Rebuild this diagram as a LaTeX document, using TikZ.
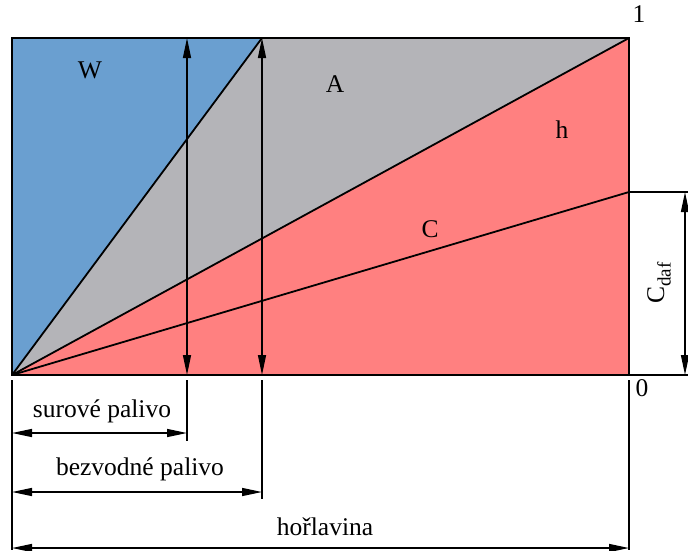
\documentclass[tikz,border=0pt]{standalone}
\usepackage{fontspec}
\setmainfont{Liberation Serif}
\usetikzlibrary{arrows.meta}
\definecolor{wblue}{HTML}{6A9FD0}
\definecolor{agray}{HTML}{B4B4B8}
\definecolor{hpink}{HTML}{FF8080}
\begin{document}
\begin{tikzpicture}[x=1pt,y=-1pt,
  lbl/.style={font=\fontsize{25.5}{30}\selectfont, inner sep=0pt},
  dimarrow/.style={line width=1.4pt, {Triangle[length=20pt,width=8pt]}-{Triangle[length=20pt,width=8pt]}},
  extline/.style={line width=1.4pt},
  edge/.style={line width=1.8pt}]
\useasboundingbox (0,0) rectangle (688,550);
% corners
\coordinate (O) at (12,375);
\coordinate (TL) at (12,38);
\coordinate (TR) at (629,38);
\coordinate (BR) at (629,375);
\coordinate (P) at (262,38);
\coordinate (Q) at (629,192);
% fills
\fill[wblue] (O) -- (TL) -- (P) -- cycle;
\fill[agray] (O) -- (P) -- (TR) -- cycle;
\fill[hpink] (O) -- (TR) -- (BR) -- cycle;
% inner lines
\draw[edge] (O) -- (P);
\draw[edge] (O) -- (TR);
\draw[edge] (O) -- (Q);
% frame
\draw[line width=2.2pt] (TL) rectangle (BR);
% vertical dimension arrows
\coordinate (s1) at (187,375);
\coordinate (s2) at (187,38);
\coordinate (b1) at (262,375);
\draw[dimarrow] (s1) -- (s2);
\draw[dimarrow] (b1) -- (P);
% extension lines
\coordinate (se) at (187,441);
\coordinate (be) at (262,499);
\coordinate (os) at (12,380);
\coordinate (oe) at (12,550);
\coordinate (rs) at (629,380);
\coordinate (re) at (629,550);
\coordinate (s1b) at (187,380);
\coordinate (b1b) at (262,380);
\draw[extline] (s1b) -- (se);
\draw[extline] (b1b) -- (be);
\draw[extline] (os) -- (oe);
\draw[extline] (rs) -- (re);
% horizontal dimension arrows
\coordinate (sa) at (12,433);
\coordinate (sb) at (187,433);
\coordinate (ba) at (12,492);
\coordinate (bb) at (262,492);
\coordinate (ha) at (12,548);
\coordinate (hb) at (629,548);
\draw[dimarrow] (sa) -- (sb);
\draw[dimarrow] (ba) -- (bb);
\draw[dimarrow] (ha) -- (hb);
% C_daf
\coordinate (c1) at (688,192);
\coordinate (c2) at (688,375);
\coordinate (ca) at (685,192);
\coordinate (cb) at (685,375);
\draw[extline] (Q) -- (c1);
\draw[extline] (BR) -- (c2);
\draw[dimarrow] (ca) -- (cb);
% labels
\node[lbl] (W) at (90,70) {W};
\node[lbl] (A) at (335,84) {A};
\node[lbl] (h) at (562,130) {h};
\node[lbl] (C) at (430,229) {C};
\node[lbl] (one) at (639,14) {1};
\node[lbl] (zero) at (642,388) {0};
\node[lbl, rotate=90] (cdaf) at (659,283) {C\raisebox{-0.25em}{\fontsize{19}{19}\selectfont daf}};
\node[lbl] (sur) at (102,411) {surové palivo};
\node[lbl] (bez) at (140,469) {bezvodné palivo};
\node[lbl] (hor) at (325,527) {hořlavina};
\end{tikzpicture}
\end{document}
